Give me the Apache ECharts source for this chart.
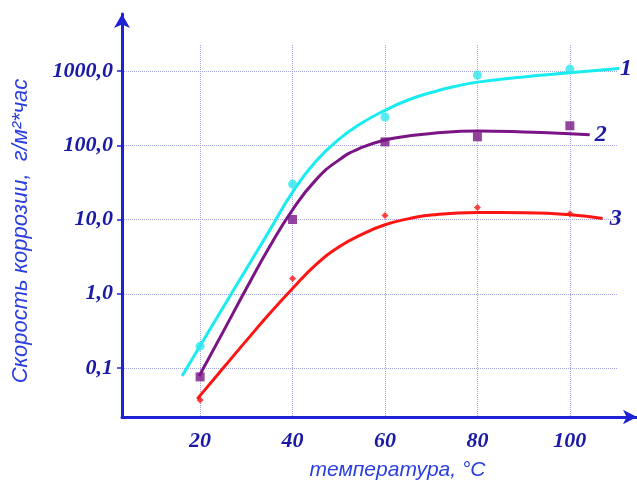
<!DOCTYPE html>
<html>
<head>
<meta charset="utf-8">
<script src="https://cdn.jsdelivr.net/npm/echarts@6/dist/echarts.min.js"></script>
<style>
  html, body { margin: 0; padding: 0; background: #fff; }
  #chart { width: 637px; height: 488px; }
</style>
</head>
<body>
<div id="chart"></div>
<script>
// measured points
const temps = [20, 40, 60, 80, 100];
const pts1 = [0.197, 30, 240, 880, 1060];
const pts2 = [0.076, 10, 111, 130, 183];
const pts3 = [0.037, 1.6, 11.3, 14.5, 12];

// fitted curves
const curve1X = [16.1, 20, 25, 30, 35, 40, 45, 50, 55, 60, 65, 70, 75, 80, 90, 100, 111.5];
const curve1Y = [0.078, 0.2, 0.66, 2.16, 7.08, 23.4, 60.3, 120, 200, 295, 407, 513, 617, 708, 832, 944, 1096];
const curve2X = [19.8, 25, 30, 35, 40, 45, 50, 55, 60, 65, 70, 80, 90, 100, 104.3];
const curve2Y = [0.078, 0.309, 1.175, 4.27, 13.5, 33.9, 63.1, 93.3, 117.5, 133.4, 144.5, 155, 151, 143, 138];
const curve3X = [19.4, 25, 30, 35, 40, 45, 50, 55, 60, 65, 70, 80, 90, 100, 107.1];
const curve3Y = [0.0384, 0.1, 0.234, 0.537, 1.175, 2.45, 4.27, 6.31, 8.51, 10.2, 11.5, 12.4, 12.3, 11.6, 10.3];

const xTicks = [20, 40, 60, 80, 100];
const yTicks = [0.1, 1, 10, 100, 1000];

const axisBlue = '#1f22d2';
const labelBlue = '#1a1aa6';
const nameBlue = '#2a3ee0';
const gridColor = '#a4a4e6';

const zip = (xs, ys) => xs.map((x, i) => [x, ys[i]]);

const chart = echarts.init(document.getElementById('chart'), null, { renderer: 'canvas' });

const endLabel = (txt, dist) => ({
  show: true,
  formatter: txt,
  distance: dist,
  color: labelBlue,
  fontFamily: 'Liberation Serif',
  fontStyle: 'italic',
  fontWeight: 'bold',
  fontSize: 24
});

const curve = (data, color, txt, dist) => ({
  type: 'line',
  data: data,
  smooth: 0.5,
  showSymbol: false,
  clip: false,
  silent: true,
  lineStyle: { color: color, width: 3 },
  endLabel: endLabel(txt, dist),
  z: 3
});

const marks = (data, color, symbol, size) => ({
  type: 'scatter',
  data: data,
  symbol: symbol,
  symbolSize: size,
  clip: false,
  silent: true,
  itemStyle: { color: color },
  z: 4
});

chart.setOption({
  animation: false,
  grid: [
    { left: 122, right: 20, top: 45, bottom: 71 },
    { left: 122, right: 0, top: 14, bottom: 71 }
  ],
  xAxis: [
    {
      type: 'value',
      gridIndex: 0,
      min: 3.1,
      max: 110.2,
      axisLine: { show: false },
      axisTick: { show: false, customValues: xTicks },
      axisLabel: {
        customValues: xTicks,
        margin: 13,
        color: labelBlue,
        fontFamily: 'Liberation Serif',
        fontStyle: 'italic',
        fontWeight: 'bold',
        fontSize: 22
      },
      splitLine: { show: true, lineStyle: { color: gridColor, type: 'dotted', width: 1 } },
      name: 'температура, °С',
      nameLocation: 'middle',
      nameGap: 43,
      nameTextStyle: {
        color: nameBlue,
        fontFamily: 'Liberation Sans',
        fontStyle: 'italic',
        fontSize: 21,
        padding: [0, 0, 0, 56]
      }
    },
    {
      type: 'value',
      gridIndex: 1,
      min: 0,
      max: 1,
      axisLine: { show: true, symbol: ['none', 'arrow'], symbolSize: [11, 14], lineStyle: { color: axisBlue, width: 3 } },
      axisTick: { show: false },
      axisLabel: { show: false },
      splitLine: { show: false }
    }
  ],
  yAxis: [
    {
      type: 'log',
      logBase: 10,
      gridIndex: 0,
      min: 0.0219,
      max: 2239,
      axisLine: { show: false },
      axisTick: { show: true, customValues: yTicks, length: 5, lineStyle: { color: axisBlue, width: 1.5 } },
      axisLabel: {
        customValues: yTicks,
        margin: 9,
        color: labelBlue,
        fontFamily: 'Liberation Serif',
        fontStyle: 'italic',
        fontWeight: 'bold',
        fontSize: 22,
        formatter: v => (Math.round(v * 10) / 10).toFixed(1).replace('.', ',')
      },
      splitLine: { show: true, lineStyle: { color: gridColor, type: 'dotted', width: 1 } },
      name: 'Скорость коррозии,  г/м²*час',
      nameLocation: 'middle',
      nameRotate: 90,
      nameGap: 90,
      nameTextStyle: {
        color: nameBlue,
        fontFamily: 'Liberation Sans',
        fontStyle: 'italic',
        fontSize: 22
      }
    },
    {
      type: 'value',
      gridIndex: 1,
      min: 0,
      max: 1,
      axisLine: { show: true, symbol: ['none', 'arrow'], symbolSize: [12, 14], lineStyle: { color: axisBlue, width: 3 } },
      axisTick: { show: false },
      axisLabel: { show: false },
      splitLine: { show: false }
    }
  ],
  series: [
    curve(zip(curve1X, curve1Y), '#19ecf0', '1', 1),
    curve(zip(curve2X, curve2Y), '#7b1585', '2', 5),
    curve(zip(curve3X, curve3Y), '#ff1414', '3', 7),
    marks(zip(temps, pts1), '#2ee6ee', 'circle', 9),
    marks(zip(temps, pts2), '#7b1585', 'rect', 9),
    marks(zip(temps, pts3), '#ff1414', 'diamond', 7)
  ]
});
</script>
</body>
</html>
